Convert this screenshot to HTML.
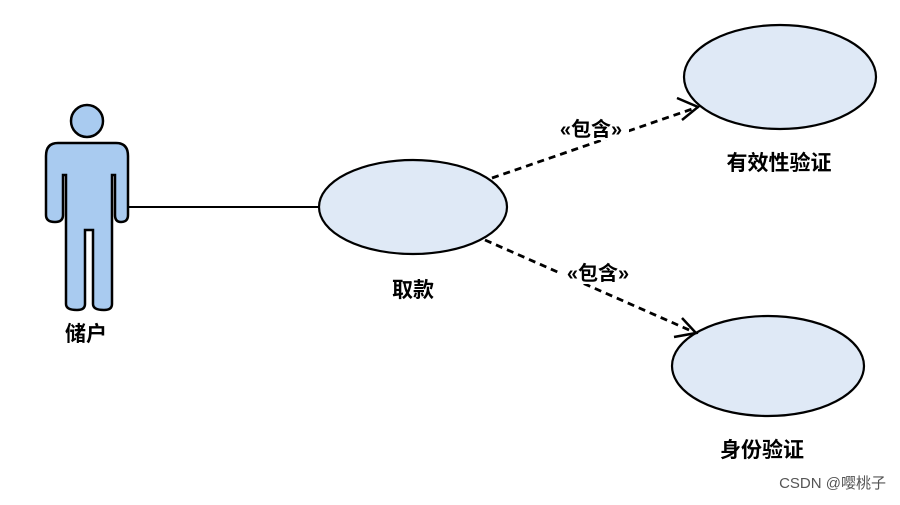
<!DOCTYPE html>
<html><head><meta charset="utf-8"><style>
body{margin:0;background:#fff;}
svg text{font-family:"Liberation Sans","Noto Sans CJK SC",sans-serif;}
</style></head><body>
<svg width="900" height="500" viewBox="0 0 900 500" xmlns="http://www.w3.org/2000/svg">
<rect width="900" height="500" fill="#fff"/>
<line x1="128" y1="207" x2="319" y2="207" stroke="#000" stroke-width="2"/>
<circle cx="87" cy="121" r="16" fill="#a9cbf0" stroke="#000" stroke-width="2.5"/>
<path d="M58,143 L116,143 Q128,143 128,156 L128,215 Q128,222 121,222 Q115,222 115,215 L115,175 L112,175 L112,304 Q112,310 104,310 Q93,310 93,304 L93,230 L85,230 L85,304 Q85,310 77,310 Q66,310 66,304 L66,175 L63,175 L63,215 Q63,222 55,222 Q46,222 46,215 L46,156 Q46,143 58,143 Z" fill="#a9cbf0" stroke="#000" stroke-width="2.5"/>
<text x="86" y="341" font-size="21" font-weight="bold" text-anchor="middle">储户</text>
<ellipse cx="413" cy="207" rx="94" ry="47" fill="#dfe9f6" stroke="#000" stroke-width="2.2"/>
<text x="413" y="297" font-size="21" font-weight="bold" text-anchor="middle">取款</text>
<ellipse cx="780" cy="77" rx="96" ry="52" fill="#dfe9f6" stroke="#000" stroke-width="2.2"/>
<text x="779" y="170" font-size="21" font-weight="bold" text-anchor="middle">有效性验证</text>
<ellipse cx="768" cy="366" rx="96" ry="50" fill="#dfe9f6" stroke="#000" stroke-width="2.2"/>
<text x="762" y="457" font-size="21" font-weight="bold" text-anchor="middle">身份验证</text>
<line x1="492" y1="178" x2="698" y2="107" stroke="#000" stroke-width="2.8" stroke-dasharray="7,5"/>
<polyline points="677,98 698,107 682,120" fill="none" stroke="#000" stroke-width="2.5"/>
<line x1="485" y1="240" x2="696" y2="333" stroke="#000" stroke-width="2.8" stroke-dasharray="7,5"/>
<polyline points="682,318 696,333 674,337" fill="none" stroke="#000" stroke-width="2.5"/>
<rect x="553" y="116" width="76" height="24" fill="#fff"/>
<text x="591" y="136" font-size="20" font-weight="bold" text-anchor="middle">«包含»</text>
<rect x="560" y="260" width="76" height="24" fill="#fff"/>
<text x="598" y="280" font-size="20" font-weight="bold" text-anchor="middle">«包含»</text>
<text x="886" y="488" font-size="15" fill="#555" text-anchor="end">CSDN @嘤桃子</text>
</svg>
</body></html>
